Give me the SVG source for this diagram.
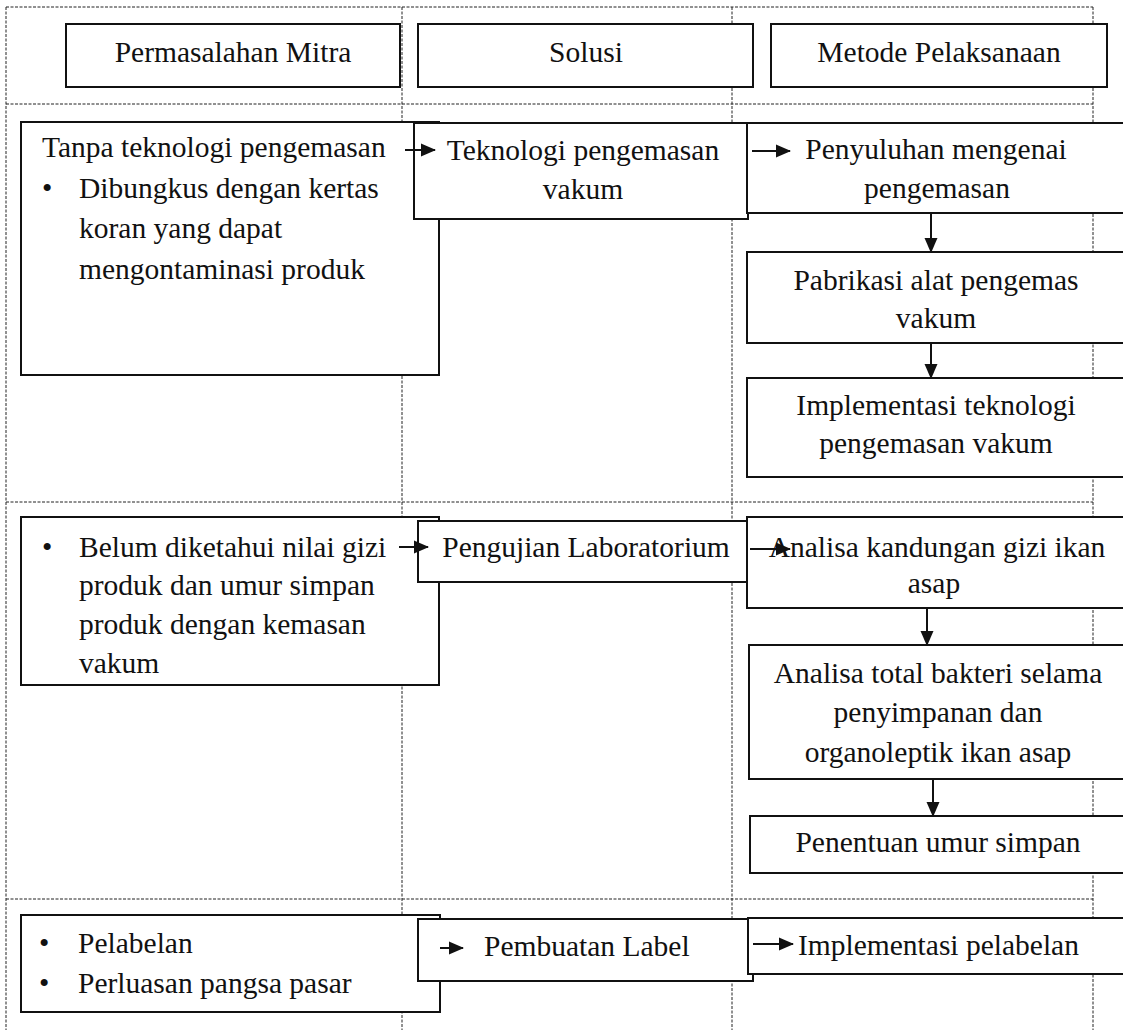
<svg xmlns="http://www.w3.org/2000/svg" width="1123" height="1030" viewBox="0 0 1123 1030">
<defs>
<style>
.grid{stroke:#222;stroke-width:1;stroke-dasharray:3,1.5;fill:none}
.box{fill:#fff;stroke:#111;stroke-width:2}
.t{font-family:"Liberation Serif","Times New Roman",serif;font-size:29.5px;fill:#111}
.c{text-anchor:middle}
.ar{stroke:#111;stroke-width:2;fill:none;marker-end:url(#ah)}
</style>
<marker id="ah" viewBox="0 0 15 14" refX="14" refY="7" markerWidth="15" markerHeight="14" orient="auto" markerUnits="userSpaceOnUse">
<path d="M0,0.5 L15,7 L0,13.5 z" fill="#111"/>
</marker>
</defs>
<rect width="1123" height="1030" fill="#fff"/>
<g id="grid">
<line class="grid" x1="6" y1="7" x2="1093" y2="7"/>
<line class="grid" x1="6" y1="104" x2="1093" y2="104"/>
<line class="grid" x1="6" y1="502" x2="1093" y2="502"/>
<line class="grid" x1="6" y1="899" x2="1093" y2="899"/>
<line class="grid" x1="6" y1="7" x2="6" y2="1030"/>
<line class="grid" x1="402" y1="7" x2="402" y2="1030"/>
<line class="grid" x1="732" y1="7" x2="732" y2="1030"/>
<line class="grid" x1="1093" y1="7" x2="1093" y2="1030"/>
</g>
<g id="h1"><rect class="box" x="66" y="24" width="334" height="63"/><text class="t c" x="233" y="62">Permasalahan Mitra</text></g>
<g id="h2"><rect class="box" x="418" y="24" width="335" height="63"/><text class="t c" x="586" y="62">Solusi</text></g>
<g id="h3"><rect class="box" x="771" y="24" width="336" height="63"/><text class="t c" x="939" y="62">Metode Pelaksanaan</text></g>

<g id="p1"><rect class="box" x="21" y="122" width="418" height="253"/>
<text class="t" x="42" y="157">Tanpa teknologi pengemasan</text>
<text class="t" x="42" y="198">•</text>
<text class="t" x="79" y="198">Dibungkus dengan kertas</text>
<text class="t" x="79" y="238">koran yang dapat</text>
<text class="t" x="79" y="279">mengontaminasi produk</text></g>
<g id="s1"><rect class="box" x="414" y="123" width="334" height="96"/>
<text class="t c" x="583" y="160">Teknologi pengemasan</text>
<text class="t c" x="583" y="199">vakum</text></g>
<g id="m1"><rect class="box" x="747" y="123" width="385" height="90"/>
<text class="t c" x="936" y="159">Penyuluhan mengenai</text>
<text class="t c" x="937" y="198">pengemasan</text></g>
<g id="m2"><rect class="box" x="747" y="252" width="385" height="91"/>
<text class="t c" x="936" y="290">Pabrikasi alat pengemas</text>
<text class="t c" x="936" y="328">vakum</text></g>
<g id="m3"><rect class="box" x="747" y="378" width="385" height="99"/>
<text class="t c" x="936" y="415">Implementasi teknologi</text>
<text class="t c" x="936" y="453">pengemasan vakum</text></g>

<g id="p2"><rect class="box" x="21" y="517" width="418" height="168"/>
<text class="t" x="42" y="557">•</text>
<text class="t" x="79" y="557">Belum diketahui nilai gizi</text>
<text class="t" x="79" y="595">produk dan umur simpan</text>
<text class="t" x="79" y="634">produk dengan kemasan</text>
<text class="t" x="79" y="673">vakum</text></g>
<g id="s2"><rect class="box" x="418" y="521" width="329" height="61"/>
<text class="t c" x="586" y="557">Pengujian Laboratorium</text></g>
<g id="m4"><rect class="box" x="747" y="517" width="385" height="91"/>
<text class="t c" x="937" y="557">Analisa kandungan gizi ikan</text>
<text class="t c" x="934" y="593">asap</text></g>
<g id="m5"><rect class="box" x="749" y="645" width="383" height="134"/>
<text class="t c" x="938" y="683">Analisa total bakteri selama</text>
<text class="t c" x="938" y="722">penyimpanan dan</text>
<text class="t c" x="938" y="762">organoleptik ikan asap</text></g>
<g id="m6"><rect class="box" x="750" y="816" width="382" height="57"/>
<text class="t c" x="938" y="852">Penentuan umur simpan</text></g>

<g id="p3"><rect class="box" x="21" y="915" width="419" height="97"/>
<text class="t" x="39" y="953">•</text>
<text class="t" x="78" y="953">Pelabelan</text>
<text class="t" x="39" y="993">•</text>
<text class="t" x="78" y="993">Perluasan pangsa pasar</text></g>
<g id="s3"><rect class="box" x="418" y="919" width="335" height="62"/>
<text class="t" x="484" y="956">Pembuatan Label</text></g>
<g id="m7"><rect class="box" x="748" y="918" width="384" height="56"/>
<text class="t" x="798" y="955">Implementasi pelabelan</text></g>

<g id="connectors">
<line class="ar" x1="405" y1="150" x2="435" y2="150"/>
<line class="ar" x1="752" y1="151" x2="790" y2="151"/>
<line class="ar" x1="931" y1="213" x2="931" y2="252"/>
<line class="ar" x1="931" y1="343" x2="931" y2="378"/>
<line class="ar" x1="399" y1="547" x2="428" y2="547"/>
<line class="ar" x1="750" y1="549" x2="790" y2="549"/>
<line class="ar" x1="927" y1="608" x2="927" y2="645"/>
<line class="ar" x1="933" y1="779" x2="933" y2="816"/>
<line class="ar" x1="440" y1="948" x2="463" y2="948"/>
<line class="ar" x1="753" y1="944" x2="793" y2="944"/>
</g>
</svg>
